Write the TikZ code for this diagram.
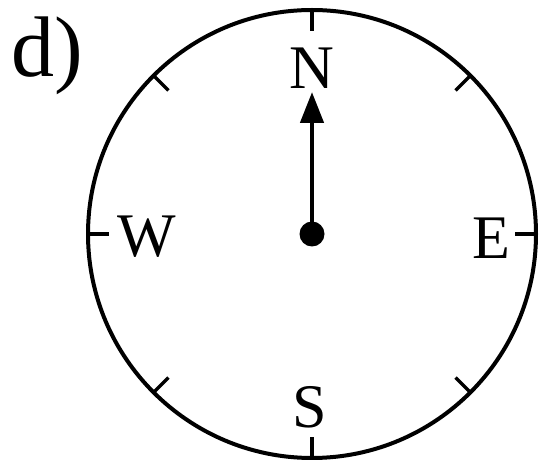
\documentclass[tikz,border=0pt]{standalone}
\usepackage{fontspec}
\setmainfont{Liberation Serif}
\usetikzlibrary{arrows.meta,calc}

\tikzstyle{every node}=[inner sep=0pt, outer sep=0pt]
\tikzstyle{dial}=[line width=4pt]
\tikzstyle{tick}=[line width=3.5pt]
\tikzstyle{point}=[font=\fontsize{62}{62}\selectfont]
\tikzstyle{pivot}=[circle, fill=black, minimum size=25pt]
\tikzstyle{needle}=[line width=4.5pt, -{Triangle[length=31pt,width=23pt]}]

\begin{document}
\begin{tikzpicture}[x=1pt,y=1pt]
    \useasboundingbox (0,0) rectangle (539,466);
    \node [anchor=base west, font=\fontsize{86}{86}\selectfont] (tag) at (12,389) {d)};
    \coordinate (centre) at (312,232);
    \draw [dial] (centre) circle (224);
    % marks round the dial
    \foreach \a in {0,45,...,315}
        \draw [tick] ($(centre)+(\a:224)$) -- ($(centre)+(\a:203)$);
    \node [point] (north) at (312,398) {N};
    \node [point] (east) at (491,228) {E};
    \node [point] (south) at (310,59) {S};
    \node [point] (west) at (147,229) {W};
    \node [pivot] (hub) at (centre) {};
    \coordinate (tip) at (312,374);
    \draw [needle] (hub.center) -- (tip);
\end{tikzpicture}
\end{document}
